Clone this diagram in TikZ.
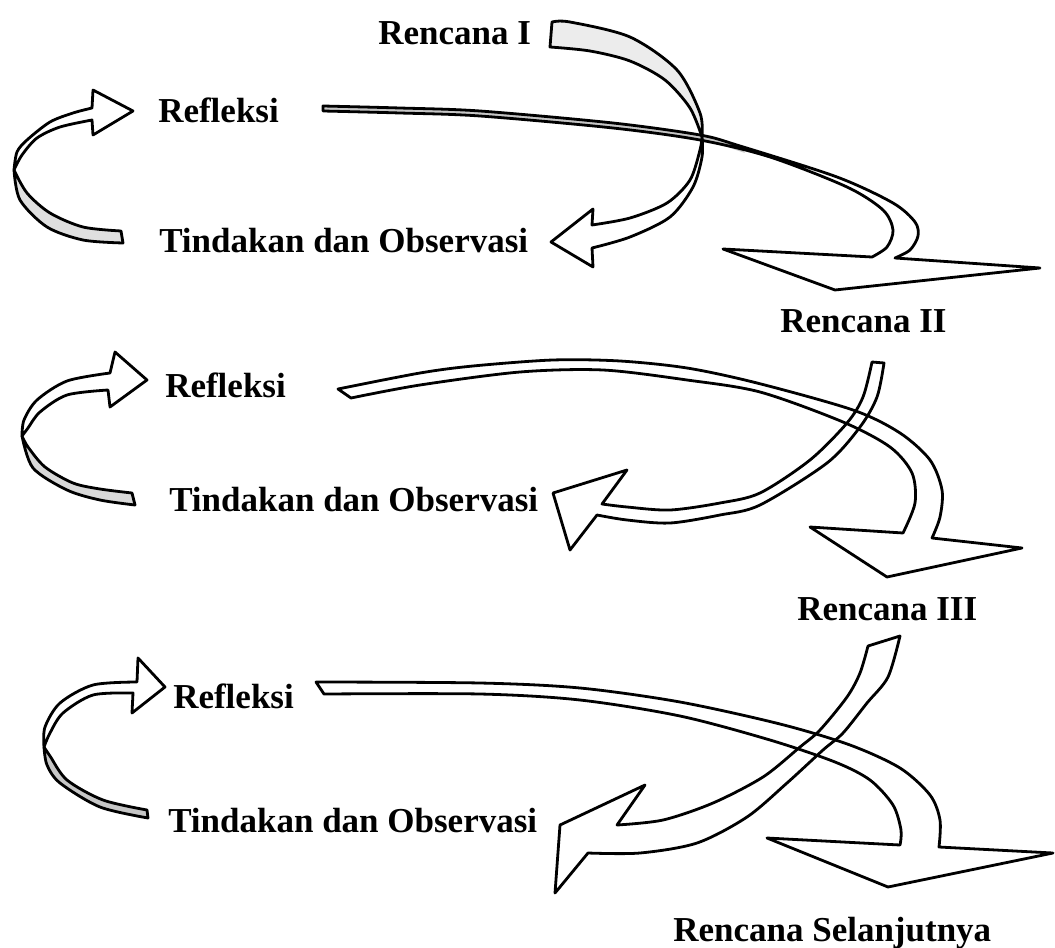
\documentclass[tikz,border=0pt]{standalone}
\usepackage{fontspec}
\setmainfont{Liberation Serif}
\begin{document}
\begin{tikzpicture}[x=0.75pt,y=-0.75pt,line join=round,
  edge/.style={draw=black,line width=2.1pt},
  lbl/.style={anchor=base west,inner sep=0pt,font=\fontsize{26.25}{30}\selectfont\bfseries}]
\useasboundingbox (0,0) rectangle (1055,948);
% ---- shapes ----
\def\Aup{plot[smooth] coordinates {(552,22) (570,22) (630,37) (677,70) (700,113) (702,137)} -- plot[smooth] coordinates {(702,137) (690,108) (665,80) (630,61) (590,51) (550,47)} -- cycle}
\def\Alow{plot[smooth] coordinates {(702,137) (700,150) (690,180) (667,203) (630,218) (592,225)} -- (593,209) -- (551,242) -- (593,267) -- (592,248) -- plot[smooth] coordinates {(592,248) (630,237) (670,217) (693,187) (702,157) (702,137)} -- cycle}
\def\B{plot[smooth] coordinates {(323,106) (400,108) (480,111) (613,123) (700,135) (740,146) (837,177) (893,203) (915,222) (918,236) (910,250) (895,258)} -- (1040,268) -- (835,290) -- (723,249) -- plot[smooth] coordinates {(872,257) (887,247) (893,230) (883,210) (847,187) (770,157) (700,140) (613,128) (480,116) (400,113) (323,111)} -- cycle}
\def\Bthin{plot[smooth] coordinates {(323,106) (400,108) (480,111) (613,123) (700,135) (740,146)} -- plot[smooth] coordinates {(745,153) (700,140) (613,128) (480,116) (400,113) (323,111)} -- cycle}
\def\C{plot[smooth] coordinates {(338,389) (420,373) (473,366) (553,360) (620,361) (687,368) (757,383) (853,410) (900,433) (930,460) (942,490) (940,517) (932,538)} -- (1022,548) -- (887,577) -- (810,527) -- plot[smooth] coordinates {(903,533) (915,503) (912,473) (890,447) (843,422) (760,392) (687,380) (603,370) (520,372) (420,385) (351,398)} -- cycle}
\def\D{plot[smooth] coordinates {(872,362) (863,397) (847,423) (810,460) (760,493) (720,503) (670,510) (627,507) (602,504)} -- (627,470) -- (553,493) -- (570,550) -- plot[smooth] coordinates {(597,515) (627,520) (670,523) (720,515) (760,505) (827,463) (860,427) (877,397) (884,363)} -- cycle}
\def\F{plot[smooth] coordinates {(868,646) (860,673) (847,697) (820,730) (800,747) (763,777) (713,803) (663,820) (617,825)} -- (645,785) -- (560,825) -- (555,893) -- plot[smooth] coordinates {(588,853) (640,853) (697,843) (747,817) (787,783) (823,750) (843,733) (867,703) (888,677) (900,636)} -- cycle}
\def\G{plot[smooth] coordinates {(316,682) (480,683) (580,688) (680,702) (780,724) (850,745) (900,768) (930,795) (940,820) (939,847)} -- (1053,853) -- (888,887) -- (767,838) -- plot[smooth] coordinates {(900,845) (901,830) (893,805) (870,780) (835,762) (770,740) (680,716) (580,700) (480,694) (324,694)} -- cycle}
\def\LAlow{plot[smooth] coordinates {(121,231) (83,227) (50,213) (27,193) (14,170)} -- plot[smooth] coordinates {(14,170) (20,200) (47,227) (83,240) (123,243)} -- cycle}
\def\LAup{plot[smooth] coordinates {(14,170) (17,152) (27,140) (50,122) (73,113) (92,108)} -- (93,90) -- (133,111) -- (93,135) -- plot[smooth] coordinates {(92,120) (60,127) (37,138) (22,155) (14,170)} -- cycle}
\def\LBlow{plot[smooth] coordinates {(132,493) (100,489) (73,483) (45,467) (28,447) (22,436)} -- plot[smooth] coordinates {(22,436) (33,468) (67,490) (100,500) (135,505)} -- cycle}
\def\LBup{plot[smooth] coordinates {(22,436) (24,420) (37,400) (67,381) (110,373)} -- (115,352) -- (147,380) -- (110,407) -- plot[smooth] coordinates {(108,390) (67,395) (40,412) (28,428) (22,436)} -- cycle}
\def\LClow{plot[smooth] coordinates {(147,810) (103,800) (67,780) (50,756) (44,747)} -- plot[smooth] coordinates {(44,747) (47,765) (60,783) (100,807) (148,818)} -- cycle}
\def\LCup{plot[smooth] coordinates {(44,747) (45,727) (60,703) (93,685) (137,682)} -- (138,658) -- (165,687) -- (132,713) -- plot[smooth] coordinates {(133,693) (93,695) (63,713) (50,733) (44,747)} -- cycle}
% ---- fills ----
\fill[white] \B; \fill[gray!45] \Bthin; \fill[gray!15] \Aup; \fill[white] \Alow;
\fill[white] \C; \fill[white] \D;
\fill[white] \G; \fill[white] \F;
\fill[gray!25] \LAlow; \fill[white] \LAup;
\fill[gray!30] \LBlow; \fill[white] \LBup;
\fill[gray!45] \LClow; \fill[white] \LCup;
% ---- outlines ----
\draw[edge] \B; \draw[edge] \Aup; \draw[edge] \Alow;
\draw[edge] \C; \draw[edge] \D;
\draw[edge] \G; \draw[edge] \F;
\draw[edge] \LAlow; \draw[edge] \LAup;
\draw[edge] \LBlow; \draw[edge] \LBup;
\draw[edge] \LClow; \draw[edge] \LCup;
% ---- labels ----
\node[lbl] (r1) at (378,45) {Rencana I};
\node[lbl] (f1) at (158,123) {Refleksi};
\node[lbl] (t1) at (159,253) {Tindakan dan Observasi};
\node[lbl] (r2) at (780,332) {Rencana II};
\node[lbl] (f2) at (165,397) {Refleksi};
\node[lbl] (t2) at (169,511) {Tindakan dan Observasi};
\node[lbl] (r3) at (797,620) {Rencana III};
\node[lbl] (f3) at (173,708) {Refleksi};
\node[lbl] (t3) at (168,832) {Tindakan dan Observasi};
\node[lbl] (r4) at (673,941) {Rencana Selanjutnya};
\end{tikzpicture}
\end{document}
